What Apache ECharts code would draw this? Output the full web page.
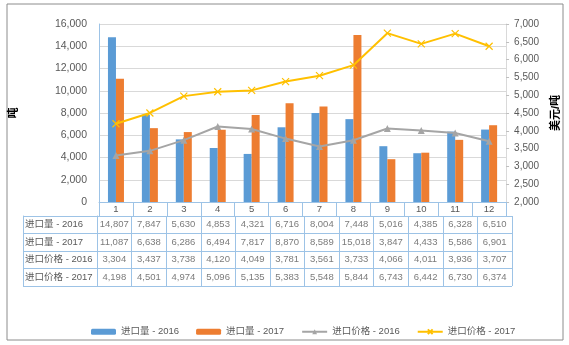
<!DOCTYPE html>
<html>
<head>
<meta charset="utf-8">
<script src="https://cdn.jsdelivr.net/npm/echarts@6/dist/echarts.min.js"></script>
<style>html,body{margin:0;padding:0;background:#fff;}#c{width:569px;height:345px;}</style>
</head>
<body>
<div id="c"></div>
<script>
const months = ['1','2','3','4','5','6','7','8','9','10','11','12'];
const vol2016 = [14807,7847,5630,4853,4321,6716,8004,7448,5016,4385,6328,6510];
const vol2017 = [11087,6638,6286,6494,7817,8870,8589,15018,3847,4433,5586,6901];
const price2016 = [3304,3437,3738,4120,4049,3781,3561,3733,4066,4011,3936,3707];
const price2017 = [4198,4501,4974,5096,5135,5383,5548,5844,6743,6442,6730,6374];
const seriesNames = ['进口量 - 2016','进口量 - 2017','进口价格 - 2016','进口价格 - 2017'];
const leftTicks = {min:0, max:16000, interval:2000};
const rightTicks = {min:2000, max:7000, interval:500};

const tableRows = [vol2016, vol2017, price2016, price2017];
const tableData = [];
tableRows.forEach((row, r) => row.forEach((v, i) => tableData.push([i, r, v])));

const TXT = '#595959';
const BORDER = '#9DC3E6';
const FONT = "'Liberation Sans','Noto Sans CJK SC',sans-serif";
const fmt = v => Number(v).toLocaleString('en-US');

const chart = echarts.init(document.getElementById('c'), null, {renderer:'canvas'});
chart.setOption({
  animation: false,
  textStyle: {fontFamily: FONT},
  graphic: [{type:'rect', shape:{x:7,y:4,width:556,height:336}, style:{fill:'none', stroke:'#8c8c8c', lineWidth:1}, silent:true}],
  legend: {
    data: seriesNames, left: 86, top: 322, itemWidth: 25, itemHeight: 6, itemGap: 17,
    textStyle: {color: TXT, fontSize: 9.5, fontFamily: FONT}
  },
  grid: [
    {left: 97, right: 57, top: 24, height: 178},
    {left: 97, right: 57, top: 216, height: 70}
  ],
  xAxis: [
    {type:'category', gridIndex:0, data: months,
     axisLine:{lineStyle:{color:BORDER}},
     axisTick:{show:true, length:14, lineStyle:{color:BORDER}},
     axisLabel:{color:TXT, fontSize:9.5, margin:3}},
    {type:'category', gridIndex:1, data: months,
     axisLine:{show:false}, axisTick:{show:false}, axisLabel:{show:false},
     splitLine:{show:true, lineStyle:{color:BORDER}}}
  ],
  yAxis: [
    {type:'value', gridIndex:0, min:leftTicks.min, max:leftTicks.max, interval:leftTicks.interval,
     name:'吨', nameLocation:'middle', nameGap:80, nameRotate:90,
     nameTextStyle:{color:'#000', fontWeight:'bold', fontSize:11},
     axisLine:{show:true, lineStyle:{color:BORDER}}, axisTick:{show:false},
     axisLabel:{color:TXT, fontSize:10.5, margin:12, formatter: fmt},
     splitLine:{lineStyle:{color:'#D9D9D9'}}},
    {type:'value', gridIndex:0, position:'right', min:rightTicks.min, max:rightTicks.max, interval:rightTicks.interval,
     name:'美元/吨', nameLocation:'middle', nameGap:42, nameRotate:90,
     nameTextStyle:{color:'#000', fontWeight:'bold', fontSize:11},
     axisLine:{show:true, lineStyle:{color:'#D9D9D9'}}, axisTick:{show:true, length:3, lineStyle:{color:'#BFBFBF'}},
     axisLabel:{color:TXT, fontSize:10, margin:8, formatter: fmt},
     splitLine:{show:false}},
    {type:'category', gridIndex:1, data: seriesNames, inverse:true,
     axisLine:{show:true, lineStyle:{color:BORDER}},
     axisTick:{show:true, length:74, lineStyle:{color:BORDER}},
     axisLabel:{align:'left', margin:72, color:TXT, fontSize:9.5},
     splitLine:{show:true, lineStyle:{color:BORDER}}},
    {type:'category', gridIndex:1, data: seriesNames, inverse:true, position:'left', offset:74,
     axisLine:{show:true, lineStyle:{color:BORDER}}, axisTick:{show:false}, axisLabel:{show:false}}
  ],
  series: [
    {name:seriesNames[0], type:'bar', xAxisIndex:0, yAxisIndex:0, data: vol2016, barWidth:8, barGap:'0%', itemStyle:{color:'#5B9BD5'}},
    {name:seriesNames[1], type:'bar', xAxisIndex:0, yAxisIndex:0, data: vol2017, barWidth:8, barGap:'0%', itemStyle:{color:'#ED7D31'}},
    {name:seriesNames[2], type:'line', xAxisIndex:0, yAxisIndex:1, data: price2016, symbol:'triangle', symbolSize:7,
     lineStyle:{color:'#A5A5A5', width:2}, itemStyle:{color:'#A5A5A5'}, z:3},
    {name:seriesNames[3], type:'line', xAxisIndex:0, yAxisIndex:1, data: price2017, symbol:'path://M0,0L10,10M10,0L0,10', symbolSize:7,
     lineStyle:{color:'#FFC000', width:2}, itemStyle:{color:'#FFC000', borderColor:'#FFC000', borderWidth:1.2}, z:3},
    {name:'table', type:'scatter', xAxisIndex:1, yAxisIndex:2, data: tableData, symbolSize:1,
     itemStyle:{color:'rgba(0,0,0,0)'}, silent:true,
     label:{show:true, position:'inside', color:TXT, fontSize:9.5, formatter: p => fmt(p.value[2])}}
  ]
});
</script>
</body>
</html>
